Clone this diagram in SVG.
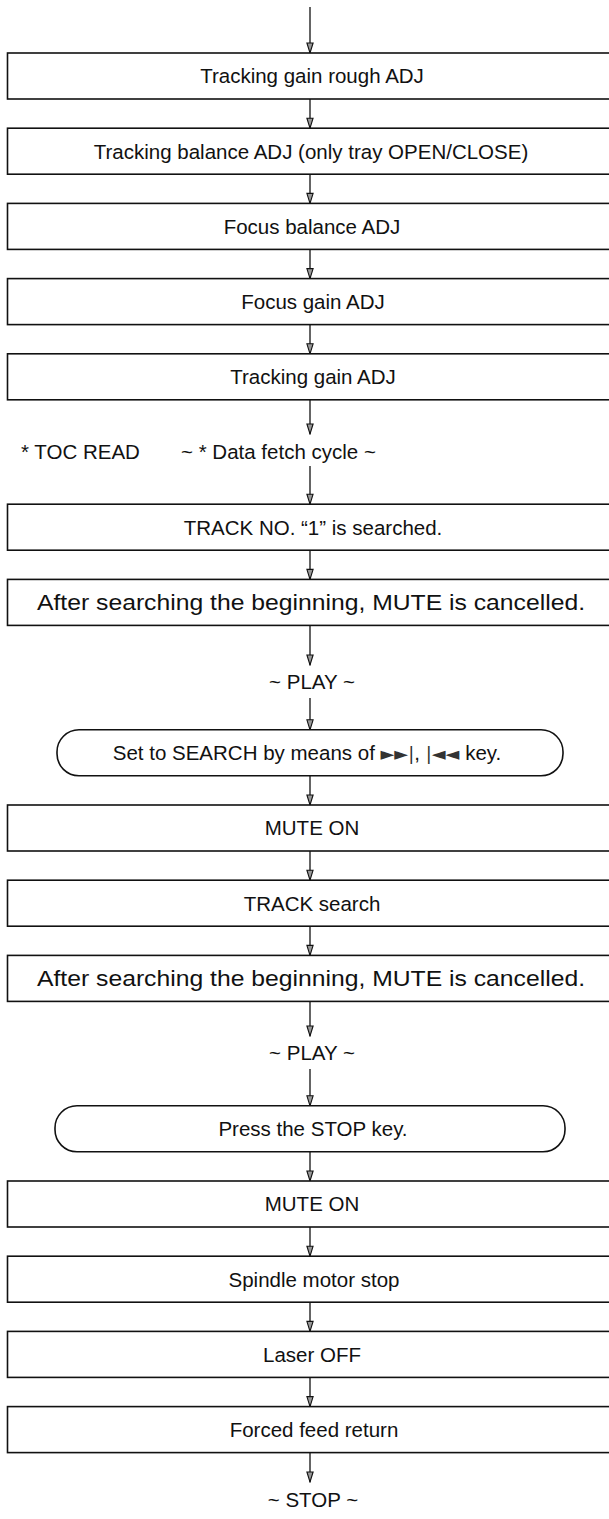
<svg xmlns="http://www.w3.org/2000/svg" width="609" height="1519" viewBox="0 0 609 1519">
  <style>
    .box { fill: #fff; stroke: #111; stroke-width: 1.6; }
    .lbl { font-family: "Liberation Sans", Arial, sans-serif; font-size: 20.5px; fill: #111; text-anchor: middle; }
    .wide { font-size: 22px; }
    .free { font-family: "Liberation Sans", Arial, sans-serif; font-size: 20.5px; fill: #111; }
    .sym { font-family: "DejaVu Sans", sans-serif; font-size: 18px; fill: #333; }
    .wire { stroke: #111; stroke-width: 1.3; fill: none; marker-end: url(#tip); }
  </style>
  <defs>
    <marker id="tip" viewBox="0 0 12 8" refX="11" refY="4" markerWidth="12" markerHeight="8" markerUnits="userSpaceOnUse" orient="auto">
      <path d="M1,0.9 L11,4 L1,7.1 Z" fill="#999" stroke="#111" stroke-width="1.1"/>
    </marker>
  </defs>

  <!-- connectors: one vertical run of arrows down the flow -->
  <g id="connectors">
    <line class="wire" x1="310" y1="7" x2="310" y2="53"/>
    <line class="wire" x1="310" y1="99" x2="310" y2="128.2"/>
    <line class="wire" x1="310" y1="174.2" x2="310" y2="203.4"/>
    <line class="wire" x1="310" y1="249.4" x2="310" y2="278.6"/>
    <line class="wire" x1="310" y1="324.6" x2="310" y2="353.8"/>
    <line class="wire" x1="310" y1="399.8" x2="310" y2="434"/>
    <line class="wire" x1="310" y1="466" x2="310" y2="504.2"/>
    <line class="wire" x1="310" y1="550.2" x2="310" y2="579.4"/>
    <line class="wire" x1="310" y1="625.4" x2="310" y2="665"/>
    <line class="wire" x1="310" y1="698" x2="310" y2="729.8"/>
    <line class="wire" x1="310" y1="775.8" x2="310" y2="805"/>
    <line class="wire" x1="310" y1="851" x2="310" y2="880.2"/>
    <line class="wire" x1="310" y1="926.2" x2="310" y2="955.4"/>
    <line class="wire" x1="310" y1="1001.4" x2="310" y2="1036"/>
    <line class="wire" x1="310" y1="1069" x2="310" y2="1105.8"/>
    <line class="wire" x1="310" y1="1151.8" x2="310" y2="1181"/>
    <line class="wire" x1="310" y1="1227" x2="310" y2="1256.2"/>
    <line class="wire" x1="310" y1="1302.2" x2="310" y2="1331.4"/>
    <line class="wire" x1="310" y1="1377.4" x2="310" y2="1406.6"/>
    <line class="wire" x1="310" y1="1452.6" x2="310" y2="1482"/>
  </g>

  <g id="n1"><rect class="box" x="7.5" y="53" width="606" height="46"/><text class="lbl" x="312" y="83.3">Tracking gain rough ADJ</text></g>
  <g id="n2"><rect class="box" x="7.5" y="128.2" width="606" height="46"/><text class="lbl" x="311" y="158.5">Tracking balance ADJ (only tray OPEN/CLOSE)</text></g>
  <g id="n3"><rect class="box" x="7.5" y="203.4" width="606" height="46"/><text class="lbl" x="312" y="233.7">Focus balance ADJ</text></g>
  <g id="n4"><rect class="box" x="7.5" y="278.6" width="606" height="46"/><text class="lbl" x="313" y="308.9">Focus gain ADJ</text></g>
  <g id="n5"><rect class="box" x="7.5" y="353.8" width="606" height="46"/><text class="lbl" x="313" y="384.1">Tracking gain ADJ</text></g>
  <g id="t1"><text class="free" x="21" y="459.3">* TOC READ</text><text class="free" x="181" y="459.3">~ * Data fetch cycle ~</text></g>
  <g id="n6"><rect class="box" x="7.5" y="504.2" width="606" height="46"/><text class="lbl" x="313" y="534.5">TRACK NO. “1” is searched.</text></g>
  <g id="n7"><rect class="box" x="7.5" y="579.4" width="606" height="46"/><text class="lbl wide" x="311" y="610.2" textLength="548" lengthAdjust="spacingAndGlyphs">After searching the beginning, MUTE is cancelled.</text></g>
  <g id="t2"><text class="lbl" x="312" y="689.3">~ PLAY ~</text></g>
  <g id="r1"><rect class="box" x="57" y="729.8" width="506" height="46" rx="22" ry="22"/><text class="lbl" x="307" y="760.1">Set to SEARCH by means of <tspan class="sym">►►|</tspan>, <tspan class="sym">|◄◄</tspan> key.</text></g>
  <g id="n8"><rect class="box" x="7.5" y="805" width="606" height="46"/><text class="lbl" x="312" y="835.3">MUTE ON</text></g>
  <g id="n9"><rect class="box" x="7.5" y="880.2" width="606" height="46"/><text class="lbl" x="312" y="910.5">TRACK search</text></g>
  <g id="n10"><rect class="box" x="7.5" y="955.4" width="606" height="46"/><text class="lbl wide" x="311" y="986.2" textLength="548" lengthAdjust="spacingAndGlyphs">After searching the beginning, MUTE is cancelled.</text></g>
  <g id="t3"><text class="lbl" x="312" y="1060.3">~ PLAY ~</text></g>
  <g id="r2"><rect class="box" x="55" y="1105.8" width="510" height="46" rx="22" ry="22"/><text class="lbl" x="313" y="1136.1">Press the STOP key.</text></g>
  <g id="n11"><rect class="box" x="7.5" y="1181" width="606" height="46"/><text class="lbl" x="312" y="1211.3">MUTE ON</text></g>
  <g id="n12"><rect class="box" x="7.5" y="1256.2" width="606" height="46"/><text class="lbl" x="314" y="1286.5">Spindle motor stop</text></g>
  <g id="n13"><rect class="box" x="7.5" y="1331.4" width="606" height="46"/><text class="lbl" x="312" y="1361.7">Laser OFF</text></g>
  <g id="n14"><rect class="box" x="7.5" y="1406.6" width="606" height="46"/><text class="lbl" x="314" y="1436.9">Forced feed return</text></g>
  <g id="t4"><text class="lbl" x="313" y="1507.3">~ STOP ~</text></g>
</svg>
